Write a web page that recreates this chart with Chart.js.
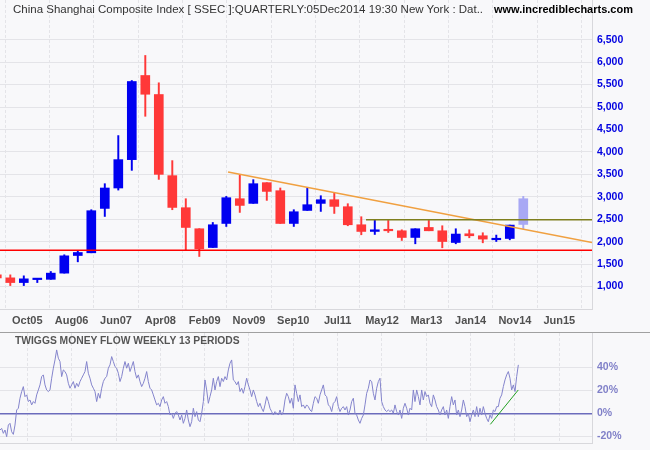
<!DOCTYPE html>
<html><head><meta charset="utf-8">
<script src="https://cdn.jsdelivr.net/npm/chart.js@4.4.1/dist/chart.umd.min.js"></script>
<style>
html,body{margin:0;padding:0;background:#f8f8fa;}
#wrap{position:relative;width:650px;height:450px;overflow:hidden;background:#f8f8fa;font-family:"Liberation Sans",Arial,sans-serif;}
canvas{position:absolute;left:0;}
#c1{top:0;width:650px;height:333px;}
#c2{top:333px;width:650px;height:117px;}
.t{position:absolute;white-space:nowrap;line-height:1;}
#title{left:13px;top:4px;font-size:11.5px;color:#333;}
#site{left:494px;top:4px;font-size:11px;font-weight:bold;color:#000;}
#sub{left:15px;top:336px;font-size:10.3px;font-weight:bold;color:#555;}
#sep{position:absolute;left:0;top:332px;width:650px;height:1px;background:#a0a0a0;}
</style></head>
<body><div id="wrap">
<canvas id="c1" width="650" height="333"></canvas>
<canvas id="c2" width="650" height="117"></canvas>
<div id="sep"></div>
<div class="t" id="title">China Shanghai Composite Index [ SSEC ]:QUARTERLY:05Dec2014 19:30 New York : Dat..</div>
<div class="t" id="site">www.incrediblecharts.com</div>
<div class="t" id="sub">TWIGGS MONEY FLOW WEEKLY 13 PERIODS</div>
</div>
<script>
// ---- data ----
const quarters = ['Q1 2005','Q2 2005','Q3 2005','Q4 2005','Q1 2006','Q2 2006','Q3 2006','Q4 2006','Q1 2007','Q2 2007','Q3 2007','Q4 2007','Q1 2008','Q2 2008','Q3 2008','Q4 2008','Q1 2009','Q2 2009','Q3 2009','Q4 2009','Q1 2010','Q2 2010','Q3 2010','Q4 2010','Q1 2011','Q2 2011','Q3 2011','Q4 2011','Q1 2012','Q2 2012','Q3 2012','Q4 2012','Q1 2013','Q2 2013','Q3 2013','Q4 2013','Q1 2014','Q2 2014','Q3 2014','Q4 2014'];
const openV  = [1261,1194,1089,1155,1161,1299,1692,1752,2741,3196,3828,5703,5279,3471,2757,2288,1870,2406,2957,2853,3315,3136,2406,2696,2853,2935,2779,2377,2228,2265,2243,2094,2317,2243,1982,2176,2132,2043,2071,2384];
const highV  = [1300,1261,1239,1175,1335,1708,1790,2712,3292,4364,5591,6149,5540,3806,2957,2290,2428,3009,3493,3382,3315,3196,2712,3196,3024,3085,2846,2556,2495,2473,2265,2288,2473,2355,2288,2265,2199,2147,2370,3009];
const lowV   = [1160,1022,1022,1089,1161,1299,1551,1752,2562,3150,3589,4794,3388,2712,1819,1670,1870,2339,2652,2853,2920,2406,2339,2696,2674,2629,2355,2154,2161,2205,2027,1953,2243,1864,1953,2087,1975,2004,2042,2288];
const closeV = [1190,1089,1172,1170,1299,1685,1759,2690,3196,3828,5569,5285,3500,2763,2317,1841,2377,2980,2808,3292,3120,2406,2667,2824,2935,2786,2377,2228,2265,2243,2094,2288,2243,2004,2170,2132,2058,2065,2370,2957];

const xTickLabels = ['Oct05','Aug06','Jun07','Apr08','Feb09','Nov09','Sep10','Jul11','May12','Mar13','Jan14','Nov14','Jun15'];
const xTickPos = [2.26,5.54,8.83,12.11,15.40,18.68,21.96,25.25,28.53,31.82,35.10,38.38,41.67];
const priceTicks = [500,1000,1500,2000,2500,3000,3500,4000,4500,5000,5500,6000,6500];
const mfTicks = [-20,0,20,40];

const supportLine = {from:-1, to:46, level:1810};
const resistLine = {from:27.35, to:46, level:2490};
const trendLine = {x1:17.13, y1:3553, x2:44.09, y2:1982};
const mfTrend = {x1:36.56, y1:-9.6, x2:38.63, y2:20.3};

// Twiggs money flow (weekly, sampled), %
const mfStart = 0.237, mfStep = 0.12346;
const mfValues = [
-14.5,-13.1,-17.4,-14.5,-20.3,-10.2,-8.7,-16,-18.3,-10.2,
2.9,4.4,13.1,18.9,23.2,14.5,16,10.2,11.6,7.3,
10.2,8.7,16,20.3,24.7,31.9,33.4,24.7,20.3,18.9,
20.3,30.5,39.2,46.4,55.1,47.9,45,31.9,37.7,36.3,
33.4,26.1,21.8,24.7,27.6,21.8,26.1,23.2,27.6,30.5,
33.4,36.3,45,34.8,30.5,24.7,21.8,18.9,10.2,17.4,
13.1,21.8,27.6,30.5,31.9,39.2,42.1,49.3,45,40.6,
39.2,34.8,27.6,31.9,39.2,45,39.2,43.5,36.3,40.6,
45,36.3,30.5,33.4,27.6,23.2,26.1,30.5,36.3,27.6,
21.8,20.3,16,11.6,7.3,8.7,5.8,11.6,14.5,8.7,
10.2,5.8,-1.5,0,-4.4,0,1.5,-1.5,-5.8,-1.5,
-8.7,-4.4,2.9,-5.8,-11.6,-7.3,4.4,-2.9,1.5,-5.8,
-7.3,0,10.2,29,20.3,8.7,14.5,20.3,30.5,20.3,
27.6,31.9,23.2,30.5,27.6,31.9,29,37.7,43.5,46.4,
29,27.6,24.7,27.6,18.9,21.8,17.4,23.2,30.5,24.7,
20.3,14.5,20.3,16,10.2,5.8,8.7,4.4,1.5,7.3,
14.5,10.2,4.4,1.5,-1.5,1.5,0,-1.5,2.9,-1.5,
1.5,11.6,17.4,14.5,8.7,13.1,4.4,24.7,17.4,10.2,
16,5.8,7.3,4.4,7.3,5.8,2.9,1.5,8.7,14.5,
13.1,8.7,16,20.3,24.7,16,14.5,7.3,5.8,1.5,
8.7,10.2,14.5,5.8,1.5,4.4,5.8,2.9,5.8,-1.5,
2.9,10.2,13.1,0,-1.5,-5.8,-8.7,-4.4,-1.5,7.3,
17.4,21.8,29,27.6,17.4,11.6,21.8,27.6,30.5,10.2,
5.8,2.9,1.5,2.9,1.5,2.9,0,7.3,1.5,-1.5,
2.9,-4.4,4.4,8.7,4.4,-1.5,4.4,2.9,20.3,10.2,
20.3,14.5,7.3,20.3,11.6,18.9,14.5,16,8.7,5.8,
16,11.6,5.8,2.9,-1.5,2.9,5.8,-1.5,2.9,-4.4,
5.8,14.5,7.3,11.6,-1.5,2.9,-2.9,2.9,11.6,5.8,
-2.9,0,-7.3,-1.5,2.9,-2.9,5.8,-2.9,4.4,-1.5,
5.8,0,-4.4,-7.3,-1.5,-4.4,2.9,1.5,5.8,5.8,
13.1,16,23.2,29,33.4,36.3,30.5,20.3,24.7,18.9,31.9,42.1
];

// ---- build ----
const X_MIN = 0.237, X_MAX = 44.09;
const BLUE='#0000f0', RED='#ff3838', LAST='#a8a8f4';
const cColors = quarters.map((q,i)=> i===quarters.length-1 ? LAST : (closeV[i]>=openV[i]?BLUE:RED));
const bodies = quarters.map((q,i)=>({x:i,y:[openV[i],closeV[i]]}));
const wicks = quarters.map((q,i)=>({x:i,y:[lowV[i],highV[i]]}));
const fmt = v => v.toString().replace(/\B(?=(\d{3})+(?!\d))/g, ',');

const GRID='#e4e4e8';
function noPad(s){ s.paddingTop=0; s.paddingBottom=0; s.paddingLeft=0; s.paddingRight=0; }
function xScale(showTicks, h){
  return {type:'linear', min:X_MIN, max:X_MAX, offset:false,
    grid:{color:GRID, drawTicks:false},
    border:{display:true, color:'#d8d8dc', dash:[3,2]},
    afterBuildTicks: s => { s.ticks = xTickPos.map(v=>({value:v})); },
    afterFit: s => { s.height = h; noPad(s); },
    ticks:{display:showTicks, autoSkip:false, maxRotation:0, padding:5, color:'#505050',
      font:{family:'"Liberation Sans", Arial, sans-serif', size:11, weight:'bold'},
      callback:(v,i)=>xTickLabels[i]}
  };
}

new Chart(document.getElementById('c1'), {
  type:'bar',
  data:{datasets:[
    {type:'line', data:[{x:supportLine.from,y:supportLine.level},{x:supportLine.to,y:supportLine.level}], borderColor:'#ff0000', borderWidth:1.5, pointRadius:0, order:0},
    {type:'line', data:[{x:resistLine.from,y:resistLine.level},{x:resistLine.to,y:resistLine.level}], borderColor:'#7f7f1e', borderWidth:1.5, pointRadius:0, order:0},
    {type:'line', data:[{x:trendLine.x1,y:trendLine.y1},{x:trendLine.x2,y:trendLine.y2}], borderColor:'#f0a040', borderWidth:1.5, pointRadius:0, order:0},
    {type:'bar', data:bodies, backgroundColor:cColors, barThickness:9, grouped:false, minBarLength:1.5, borderWidth:0, order:1},
    {type:'bar', data:wicks, backgroundColor:cColors, barThickness:1.3, grouped:false, borderWidth:0, order:2}
  ]},
  options:{responsive:false, animation:false, devicePixelRatio:1, layout:{padding:0},
    plugins:{legend:{display:false}, tooltip:{enabled:false}},
    scales:{
      x: xScale(true, 24),
      y: {type:'linear', position:'right', min:500, max:7385,
        grid:{color:GRID, drawTicks:false}, border:{display:true, color:'#d8d8dc'},
        afterBuildTicks: s => { s.ticks = priceTicks.map(v=>({value:v})); },
        afterFit: s => { s.width = 58; noPad(s); },
        ticks:{padding:5, color:'#0000e0', font:{family:'"Liberation Sans", Arial, sans-serif', size:10.5, weight:'bold'},
          callback: v => v===500 ? '' : fmt(v)}
      }
    }
  }
});

new Chart(document.getElementById('c2'), {
  type:'line',
  data:{datasets:[
    {data: mfValues.map((v,i)=>({x:mfStart+i*mfStep, y:v})), borderColor:'#8484cc', borderWidth:1, pointRadius:0, tension:0},
    {data:[{x:mfTrend.x1,y:mfTrend.y1},{x:mfTrend.x2,y:mfTrend.y2}], borderColor:'#22a022', borderWidth:1, pointRadius:0}
  ]},
  options:{responsive:false, animation:false, devicePixelRatio:1, layout:{padding:0},
    plugins:{legend:{display:false}, tooltip:{enabled:false}},
    scales:{
      x: xScale(false, 7),
      y: {type:'linear', position:'right', min:-25.8, max:69.8,
        grid:{drawTicks:false, color: c => (c.tick && c.tick.value===0) ? '#6c6cbc' : GRID,
              lineWidth: c => (c.tick && c.tick.value===0) ? 1.5 : 1},
        border:{display:true, color:'#d8d8dc'},
        afterBuildTicks: s => { s.ticks = mfTicks.map(v=>({value:v})); },
        afterFit: s => { s.width = 58; noPad(s); },
        ticks:{padding:5, color:'#8080c8', font:{family:'"Liberation Sans", Arial, sans-serif', size:10.5, weight:'bold'},
          callback: v => v+'%'}
      }
    }
  }
});
</script>
</body></html>
